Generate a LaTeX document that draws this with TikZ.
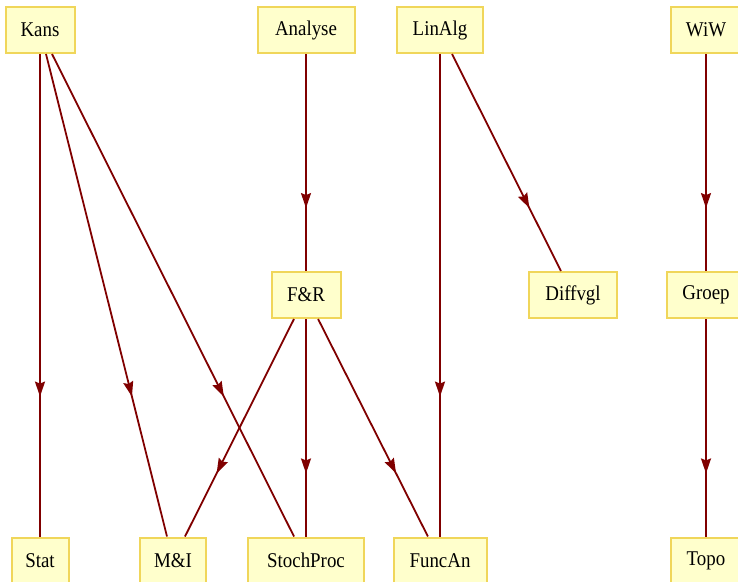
\documentclass[tikz,border=0pt]{standalone}
\usepackage{fontspec}
\setmainfont[FakeStretch=0.9]{Liberation Serif}
\usetikzlibrary{arrows.meta,decorations.markings}
\definecolor{boxfill}{RGB}{255,255,204}
\definecolor{boxline}{RGB}{240,214,90}
\definecolor{edgecol}{RGB}{128,0,0}
\begin{document}
\begin{tikzpicture}[x=1pt,y=1pt,
	vak/.style={draw=boxline, fill=boxfill, line width=2pt, minimum height=46pt, inner sep=0pt, font=\fontsize{21}{21}\selectfont},
	dep/.style={draw=edgecol, line width=1.8pt,
		postaction={decorate, decoration={markings, mark=at position 0.71 with {\arrow[edgecol]{Stealth[length=15pt,width=10pt,inset=2pt]}}}}}]
	\useasboundingbox (0,0) rectangle (738,-581);
	% bovenste rij
	\node[vak, minimum width=69pt] (kans) at (40,-30) {Kans};
	\node[vak, minimum width=97pt] (analyse) at (306,-30) {Analyse};
	\node[vak, minimum width=86pt] (linalg) at (440,-30) {LinAlg};
	\node[vak, minimum width=70pt] (wiw) at (706,-30) {WiW};
	% middelste rij
	\node[vak, minimum width=69pt] (fr) at (306,-295) {F\&R};
	\node[vak, minimum width=88pt] (diffvgl) at (573,-295) {Diffvgl};
	\node[vak, minimum width=78pt] (groep) at (706,-295) {Groep};
	% onderste rij
	\node[vak, minimum width=57pt] (stat) at (40,-560.5) {Stat};
	\node[vak, minimum width=66pt] (mi) at (173,-560.5) {M\&I};
	\node[vak, minimum width=116pt] (stoch) at (306,-560.5) {StochProc};
	\node[vak, minimum width=93pt] (funcan) at (440,-560.5) {FuncAn};
	\node[vak, minimum width=70pt] (topo) at (706,-560.5) {Topo};
	% afhankelijkheden
	\draw[dep] (kans) -- (stat);
	\draw[dep] (kans) -- (mi);
	\draw[dep] (kans) -- (stoch);
	\draw[dep] (analyse) -- (fr);
	\draw[dep] (fr) -- (mi);
	\draw[dep] (fr) -- (stoch);
	\draw[dep] (fr) -- (funcan);
	\draw[dep] (linalg) -- (funcan);
	\draw[dep] (linalg) -- (diffvgl);
	\draw[dep] (wiw) -- (groep);
	\draw[dep] (groep) -- (topo);
\end{tikzpicture}
\end{document}
